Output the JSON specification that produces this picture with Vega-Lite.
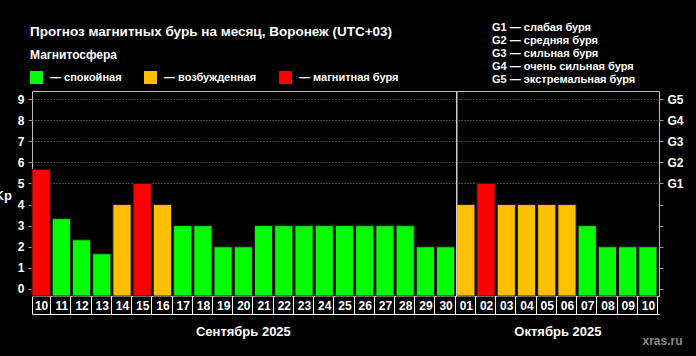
{
  "$schema": "https://vega.github.io/schema/vega-lite/v6.json",
  "width": 627,
  "height": 205,
  "autosize": {"type": "none"},
  "padding": {"left": 32, "top": 91, "right": 37, "bottom": 60},
  "background": "#000000",
  "config": {
    "font": "Liberation Sans",
    "view": {"stroke": "#bdbdbd", "strokeWidth": 1},
    "axis": {"labelFont": "Liberation Sans", "titleFont": "Liberation Sans"},
    "legend": {"labelFont": "Liberation Sans", "titleFont": "Liberation Sans"}
  },
  "title": {
    "text": "Прогноз магнитных бурь на месяц, Воронеж (UTC+03)",
    "anchor": "start",
    "frame": "group",
    "color": "#ffffff",
    "fontSize": 13.5,
    "fontWeight": "bold",
    "offset": 0,
    "dx": -2,
    "dy": 16
  },
  "resolve": {"axis": {"y": "independent"}},
  "layer": [
    {
      "data": {
        "values": [
          {"d": "09-10", "kp": 5.67, "state": "магнитная буря"},
          {"d": "09-11", "kp": 3.33, "state": "спокойная"},
          {"d": "09-12", "kp": 2.33, "state": "спокойная"},
          {"d": "09-13", "kp": 1.67, "state": "спокойная"},
          {"d": "09-14", "kp": 4, "state": "возбужденная"},
          {"d": "09-15", "kp": 5, "state": "магнитная буря"},
          {"d": "09-16", "kp": 4, "state": "возбужденная"},
          {"d": "09-17", "kp": 3, "state": "спокойная"},
          {"d": "09-18", "kp": 3, "state": "спокойная"},
          {"d": "09-19", "kp": 2, "state": "спокойная"},
          {"d": "09-20", "kp": 2, "state": "спокойная"},
          {"d": "09-21", "kp": 3, "state": "спокойная"},
          {"d": "09-22", "kp": 3, "state": "спокойная"},
          {"d": "09-23", "kp": 3, "state": "спокойная"},
          {"d": "09-24", "kp": 3, "state": "спокойная"},
          {"d": "09-25", "kp": 3, "state": "спокойная"},
          {"d": "09-26", "kp": 3, "state": "спокойная"},
          {"d": "09-27", "kp": 3, "state": "спокойная"},
          {"d": "09-28", "kp": 3, "state": "спокойная"},
          {"d": "09-29", "kp": 2, "state": "спокойная"},
          {"d": "09-30", "kp": 2, "state": "спокойная"},
          {"d": "10-01", "kp": 4, "state": "возбужденная"},
          {"d": "10-02", "kp": 5, "state": "магнитная буря"},
          {"d": "10-03", "kp": 4, "state": "возбужденная"},
          {"d": "10-04", "kp": 4, "state": "возбужденная"},
          {"d": "10-05", "kp": 4, "state": "возбужденная"},
          {"d": "10-06", "kp": 4, "state": "возбужденная"},
          {"d": "10-07", "kp": 3, "state": "спокойная"},
          {"d": "10-08", "kp": 2, "state": "спокойная"},
          {"d": "10-09", "kp": 2, "state": "спокойная"},
          {"d": "10-10", "kp": 2, "state": "спокойная"}
        ]
      },
      "mark": {"type": "bar", "stroke": "#1c1c1c", "strokeWidth": 1},
      "encoding": {
        "x": {
          "field": "d",
          "type": "ordinal",
          "scale": {"paddingInner": 0.1, "paddingOuter": 0.05, "align": 0},
          "axis": {
            "orient": "bottom",
            "offset": 18,
            "domain": true,
            "domainColor": "#ffffff",
            "domainWidth": 1,
            "ticks": true,
            "tickBand": "extent",
            "tickSize": -18,
            "tickColor": "#ffffff",
            "tickWidth": 1,
            "labelExpr": "substring(datum.label, 3)",
            "labelAngle": 0,
            "labelColor": "#ffffff",
            "labelFontSize": 12,
            "labelFontWeight": "bold",
            "labelBaseline": "middle",
            "labelPadding": 9,
            "title": "xras.ru",
            "titleColor": "#8c8c8c",
            "titleFontSize": 12,
            "titleFontWeight": "bold",
            "titleAlign": "center",
            "titleBaseline": "middle",
            "titleX": 630,
            "titleY": 26
          }
        },
        "y": {
          "field": "kp",
          "type": "quantitative",
          "scale": {"domain": [-0.332, 9.379], "nice": false, "zero": false},
          "axis": {
            "orient": "left",
            "values": [0, 1, 2, 3, 4, 5, 6, 7, 8, 9],
            "domain": false,
            "labelColor": "#ffffff",
            "labelFontSize": 12,
            "labelFontWeight": "bold",
            "labelPadding": 4,
            "tickColor": "#9a9a9a",
            "tickSize": 4,
            "grid": true,
            "gridColor": {"condition": {"test": "datum.value >= 5", "value": "#808080"}, "value": "transparent"},
            "gridDash": [1, 2],
            "gridWidth": 1,
            "title": "Kp",
            "titleAngle": 0,
            "titleAlign": "left",
            "titleBaseline": "middle",
            "titleX": -38,
            "titleY": 104,
            "titleColor": "#ffffff",
            "titleFontSize": 13,
            "titleFontWeight": "bold"
          }
        },
        "y2": {"datum": -0.332},
        "color": {
          "field": "state",
          "type": "nominal",
          "scale": {
            "domain": ["спокойная", "возбужденная", "магнитная буря"],
            "range": ["#00ff00", "#ffc000", "#ff0000"]
          },
          "legend": {
            "orient": "none",
            "legendX": -2,
            "legendY": -41,
            "direction": "horizontal",
            "title": "Магнитосфера",
            "titleColor": "#ffffff",
            "titleFontSize": 12,
            "titleFontWeight": "bold",
            "titlePadding": 9,
            "labelExpr": "'— ' + datum.label",
            "labelColor": "#ffffff",
            "labelFontSize": 11,
            "labelFontWeight": "bold",
            "labelOffset": 7,
            "columnPadding": 22,
            "symbolType": "square",
            "symbolSize": 169,
            "symbolStrokeWidth": 0,
            "symbolOpacity": 1
          }
        }
      }
    },
    {
      "data": {
        "values": [
          {"kp": 0}, {"kp": 9}
        ]
      },
      "mark": {"type": "point", "opacity": 0},
      "encoding": {
        "y": {
          "field": "kp",
          "type": "quantitative",
          "axis": {
            "orient": "right",
            "values": [0, 1, 2, 3, 4, 5, 6, 7, 8, 9],
            "labelExpr": "datum.value >= 5 ? 'G' + (datum.value - 4) : ''",
            "domain": false,
            "grid": false,
            "labelColor": "#ffffff",
            "labelFontSize": 12,
            "labelFontWeight": "bold",
            "labelPadding": 4,
            "tickColor": "#9a9a9a",
            "tickSize": 4,
            "title": null
          }
        }
      }
    },
    {
      "data": {"values": [{"d": "10-01"}]},
      "mark": {"type": "rule", "color": "#cfcfcf", "strokeWidth": 1.5},
      "encoding": {
        "x": {"field": "d", "type": "ordinal", "bandPosition": 0}
      }
    },
    {
      "data": {"values": [{"d": "09-20", "m": "Сентябрь 2025"}]},
      "mark": {"type": "text", "color": "#ffffff", "fontSize": 13, "fontWeight": "bold", "baseline": "middle", "align": "center"},
      "encoding": {
        "x": {"field": "d", "type": "ordinal"},
        "y": {"datum": -2.04, "type": "quantitative", "axis": null},
        "text": {"field": "m"}
      }
    },
    {
      "data": {"values": [{"d": "10-06", "m": "Октябрь 2025"}]},
      "mark": {"type": "text", "color": "#ffffff", "fontSize": 13, "fontWeight": "bold", "baseline": "middle", "align": "center"},
      "encoding": {
        "x": {"field": "d", "type": "ordinal", "bandPosition": 0},
        "y": {"datum": -2.04, "type": "quantitative", "axis": null},
        "text": {"field": "m"}
      }
    },
    {
      "data": {
        "values": [
          {"g": "G1 — слабая буря"},
          {"g": "G2 — средняя буря"},
          {"g": "G3 — сильная буря"},
          {"g": "G4 — очень сильная буря"},
          {"g": "G5 — экстремальная буря"}
        ]
      },
      "mark": {"type": "point", "opacity": 0},
      "encoding": {
        "shape": {
          "field": "g",
          "type": "nominal",
          "legend": {
            "orient": "none",
            "legendX": 449,
            "legendY": -69,
            "direction": "vertical",
            "title": null,
            "labelColor": "#ffffff",
            "labelFontSize": 11,
            "labelFontWeight": "bold",
            "labelOffset": 0,
            "symbolSize": 0,
            "symbolOpacity": 0,
            "symbolStrokeWidth": 0,
            "rowPadding": 1.2
          }
        }
      }
    }
  ]
}
